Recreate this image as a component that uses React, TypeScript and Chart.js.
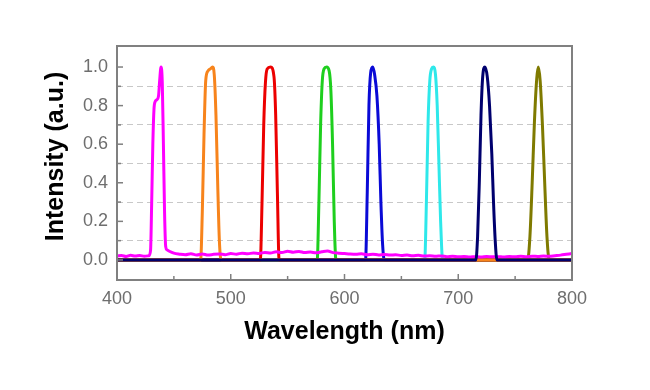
import React, { useEffect, useRef } from "react";
import { Chart, registerables } from "chart.js";

Chart.register(...registerables);

const xTickValues = [400, 500, 600, 700, 800];
const yTickValues = [0, 0.1, 0.2, 0.3, 0.4, 0.5, 0.6, 0.7, 0.8, 0.9, 1.0];
const xTitle = "Wavelength (nm)";
const yTitle = "Intensity (a.u.)";

const magentaX = [400, 404, 408, 412, 416, 420, 424, 428, 429.5, 430.5, 431.5, 432.5, 433.5, 435, 436.5, 437.5, 438.7, 439.8, 440.8, 441.8, 442.8, 444, 446, 450, 455, 460, 465, 470, 475, 480, 485, 490, 495, 500, 505, 510, 515, 520, 525, 530, 535, 540, 545, 550, 555, 560, 565, 570, 575, 580, 585, 590, 595, 600, 605, 610, 615, 620, 625, 630, 635, 640, 645, 650, 655, 660, 665, 670, 675, 680, 685, 690, 695, 700, 705, 710, 715, 720, 725, 730, 735, 740, 745, 750, 755, 760, 765, 770, 775, 780, 785, 790, 795, 800];
const magentaY = [0.02, 0.023, 0.018, 0.024, 0.02, 0.023, 0.019, 0.022, 0.05, 0.3, 0.6, 0.78, 0.82, 0.83, 0.85, 0.93, 1.0, 0.92, 0.6, 0.25, 0.07, 0.052, 0.045, 0.035, 0.03, 0.027, 0.032, 0.026, 0.031, 0.025, 0.029, 0.031, 0.027, 0.033, 0.03, 0.035, 0.032, 0.036, 0.034, 0.039, 0.036, 0.042, 0.038, 0.045, 0.04, 0.044, 0.038, 0.041, 0.037, 0.042, 0.046, 0.038, 0.035, 0.033, 0.031, 0.03, 0.032, 0.027, 0.03, 0.026, 0.028, 0.025, 0.027, 0.023, 0.025, 0.022, 0.024, 0.02, 0.022, 0.019, 0.021, 0.017, 0.019, 0.016, 0.018, 0.015, 0.017, 0.015, 0.018, 0.016, 0.017, 0.015, 0.018, 0.016, 0.019, 0.017, 0.019, 0.018, 0.02, 0.019, 0.022, 0.025, 0.029, 0.033];

const orangeX = [400, 473.5, 475, 476.5, 478, 480, 482, 484, 485.5, 487, 488.5, 490, 491.5, 800];
const orangeY = [0, 0, 0.25, 0.65, 0.93, 0.98, 0.99, 1.0, 0.96, 0.75, 0.4, 0.1, 0, 0];

const redX = [400, 526, 527.5, 529, 530.5, 532, 535, 538, 539.5, 541, 542.5, 800];
const redY = [0, 0, 0.3, 0.7, 0.92, 0.99, 1.0, 0.95, 0.75, 0.35, 0, 0];

const greenX = [400, 576, 577.5, 579, 580.5, 582, 584.3, 586.5, 588, 589.5, 591, 592.5, 800];
const greenY = [0, 0, 0.3, 0.7, 0.93, 0.99, 1.0, 0.98, 0.88, 0.6, 0.2, 0, 0];

const blueX = [400, 618.5, 620, 621.5, 623, 624.8, 626.5, 628.5, 630.5, 632, 633.5, 635, 800];
const blueY = [0, 0, 0.35, 0.8, 0.97, 1.0, 0.96, 0.85, 0.6, 0.3, 0.08, 0, 0];

const cyanX = [400, 670.5, 672, 673.5, 675, 676.5, 678.1, 680, 681.5, 683, 684.5, 686.3, 800];
const cyanY = [0, 0, 0.3, 0.72, 0.93, 0.99, 1.0, 0.96, 0.8, 0.5, 0.2, 0, 0];

const navyX = [400, 715.5, 717, 718.5, 720, 721.5, 723.5, 725.5, 727.5, 729.5, 731, 732.5, 734, 800];
const navyY = [0, 0, 0.12, 0.4, 0.75, 0.95, 1.0, 0.95, 0.8, 0.55, 0.3, 0.1, 0, 0];

const oliveX = [400, 761, 763, 765, 767, 769, 770.4, 772, 774, 776, 778, 780, 800];
const oliveY = [0, 0, 0.12, 0.4, 0.72, 0.94, 1.0, 0.93, 0.7, 0.4, 0.12, 0, 0];

const FONT = "'Liberation Sans', Arial, sans-serif";

const pts = (xs: number[], ys: number[]) => xs.map((x, i) => ({ x, y: ys[i] }));

const mk = (label: string, xs: number[], ys: number[], color: string) => ({
  label,
  data: pts(xs, ys),
  borderColor: color,
  backgroundColor: color,
  borderWidth: 3,
  pointRadius: 0,
  fill: false,
  cubicInterpolationMode: "monotone" as const,
});

const frameTicksPlugin = {
  id: "frameTicks",
  afterDatasetsDraw(chart: any) {
    const { ctx, chartArea, scales } = chart;
    const { left, right, top, bottom } = chartArea;
    ctx.save();
    ctx.strokeStyle = "#808080";
    ctx.lineWidth = 1.5;
    for (let v = 450; v < 800; v += 50) {
      const x = scales.x.getPixelForValue(v);
      const len = v % 100 === 0 ? 6 : 4;
      ctx.beginPath();
      ctx.moveTo(x, bottom);
      ctx.lineTo(x, bottom - len);
      ctx.stroke();
    }
    yTickValues.forEach((v) => {
      const y = scales.y.getPixelForValue(v);
      const len = Math.round(v * 10) % 2 === 0 ? 6 : 4;
      ctx.beginPath();
      ctx.moveTo(left, y);
      ctx.lineTo(left + len, y);
      ctx.stroke();
    });
    ctx.lineWidth = 2;
    ctx.strokeRect(left, top, right - left, bottom - top);

    // y-axis title
    ctx.translate(56, 156.5);
    ctx.rotate(-Math.PI / 2);
    ctx.fillStyle = "#000";
    ctx.font = `bold 25px ${FONT}`;
    ctx.textAlign = "center";
    ctx.textBaseline = "middle";
    ctx.fillText(yTitle, 0, 0);
    ctx.restore();
  },
};

export default function App() {
  const ref = useRef<HTMLCanvasElement>(null);
  useEffect(() => {
    if (!ref.current) return;
    const chart = new Chart(ref.current, {
      type: "line",
      data: {
        datasets: [
          mk("navy", navyX, navyY, "#00006e"),
          mk("magenta", magentaX, magentaY, "#ff00ff"),
          mk("orange", orangeX, orangeY, "#f7841c"),
          mk("red", redX, redY, "#ec0000"),
          mk("green", greenX, greenY, "#1ecf1e"),
          mk("blue", blueX, blueY, "#0a0ad6"),
          mk("cyan", cyanX, cyanY, "#2ee8ea"),
          mk("olive", oliveX, oliveY, "#7f7a00"),
        ],
      },
      options: {
        responsive: false,
        animation: false,
        layout: { padding: { top: 46, right: 78, left: 0, bottom: 0 } },
        plugins: { legend: { display: false }, tooltip: { enabled: false } },
        scales: {
          x: {
            type: "linear",
            min: 400,
            max: 800,
            afterBuildTicks: (s: any) => {
              s.ticks = xTickValues.map((v) => ({ value: v }));
            },
            afterFit: (s: any) => {
              s.height = 110;
            },
            grid: { display: false, drawTicks: false },
            border: { display: false },
            ticks: {
              color: "#6e6e6e",
              padding: 8,
              maxRotation: 0,
              autoSkip: false,
              font: { family: FONT, size: 18 },
            },
            title: {
              display: true,
              text: xTitle,
              color: "#000",
              padding: { top: 0, bottom: 43 },
              font: { family: FONT, size: 25, weight: "bold" },
            },
          },
          y: {
            type: "linear",
            min: -0.104,
            max: 1.109,
            afterBuildTicks: (s: any) => {
              s.ticks = yTickValues.map((v) => ({ value: v }));
            },
            afterFit: (s: any) => {
              s.width = 117;
            },
            grid: {
              drawTicks: false,
              lineWidth: 1,
              color: (c: any) => {
                const v = c.tick ? c.tick.value : 0;
                return Math.round(v * 10) % 2 === 1 ? "#c8c8c8" : "rgba(0,0,0,0)";
              },
            },
            border: { display: false, dash: [6, 4] },
            ticks: {
              color: "#6e6e6e",
              padding: 9,
              autoSkip: false,
              font: { family: FONT, size: 18 },
              callback: (v: any) => (Math.round(Number(v) * 10) % 2 === 0 ? Number(v).toFixed(1) : ""),
            },
            title: { display: false },
          },
        },
      },
      plugins: [frameTicksPlugin],
    });
    return () => chart.destroy();
  }, []);
  return (
    <div style={{ position: "absolute", left: 0, top: 0, width: 650, height: 390, background: "#fff" }}>
      <canvas ref={ref} width={650} height={390} />
    </div>
  );
}
